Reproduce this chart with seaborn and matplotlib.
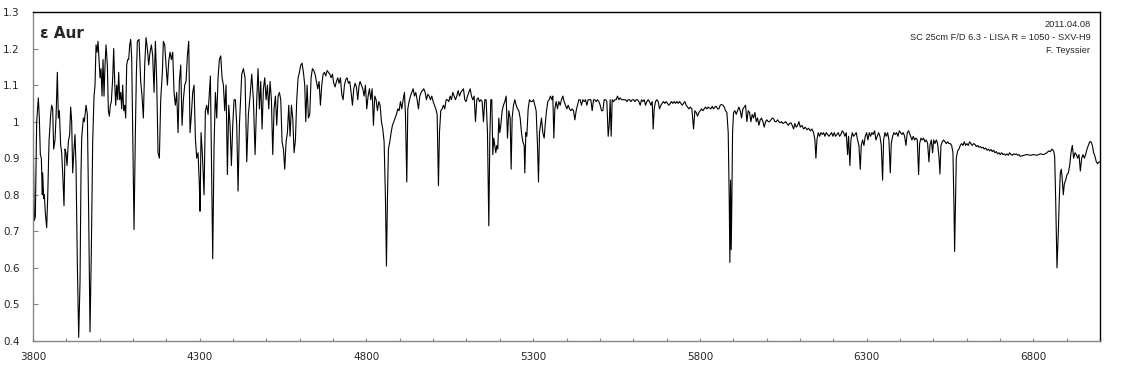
import numpy as np
import pandas as pd
import matplotlib
matplotlib.use("Agg")
import matplotlib.pyplot as plt
import seaborn as sns
from matplotlib.ticker import MultipleLocator, FuncFormatter

# ---- spectrum data (wavelength in Angstrom, relative flux) ----
wl_1 = [3800,3804,3807,3811,3816,3819,3822,3825,3828,3829,3832,3834,3837,3841,3844,3848,3853,3856,3859,3862,
        3866,3869,3873,3876,3879,3883,3886,3889,3893,3896,3899,3902,3906,3910,3913,3916,3919,3923,3926,3929,
        3933,3937,3941,3944,3946,3951,3954,3959,3963,3967,3971,3975,3979,3983,3986,3989,3992,3995,3998,4001,
        4004,4007,4010,4013,4016,4019,4023,4026,4029,4032,4035,4039,4042,4045,4048,4051,4054,4057,4060,4063,
        4066,4069,4072,4075,4078,4081,4084,4087,4090,4093,4096,4099,4103,4107,4110,4113]
flux_1 = [0.995,0.73,0.74,1.0,1.065,1.01,0.91,0.9,0.8,0.86,0.79,0.80,0.75,0.71,0.79,0.945,1.02,1.045,1.035,0.925,
          0.95,1.01,1.135,1.01,1.03,0.935,0.915,0.86,0.77,0.925,0.915,0.88,0.945,0.965,1.04,1.0,0.86,0.925,0.965,0.88,
          0.61,0.41,0.56,0.86,0.955,1.01,1.0,1.045,1.02,0.745,0.425,0.65,0.945,1.07,1.1,1.21,1.19,1.22,1.17,1.12,
          1.145,1.07,1.17,1.07,1.155,1.21,1.155,1.03,1.015,1.045,1.055,1.12,1.2,1.11,1.045,1.1,1.06,1.135,1.06,1.08,
          1.035,1.1,1.03,1.045,1.01,1.155,1.17,1.17,1.21,1.225,1.175,0.97,0.705,0.97,1.13,1.22]

wl_2 = [4118,4123,4127,4131,4135,4139,4143,4147,4151,4155,4159,4163,4167,4171,4175,4179,4183,4188,4191,4195,
        4199,4203,4207,4211,4215,4219,4223,4227,4231,4235,4239,4243,4247,4251,4255,4259,4263,4267,4271,4275,
        4279,4283,4287,4291,4295,4299,4301,4304,4308,4313,4317,4321,4325,4329,4332,4335,4339,4343,4347,4351,
        4355,4359,4363,4367,4371,4375,4379,4383,4387,4391,4395,4399,4403,4407,4411,4415,4419]
flux_2 = [1.225,1.11,1.07,1.01,1.155,1.23,1.2,1.155,1.19,1.21,1.18,1.08,1.22,1.11,0.915,0.9,1.06,1.135,1.22,1.21,
          1.155,1.1,1.165,1.19,1.17,1.19,1.08,1.045,1.08,0.97,1.11,1.155,0.99,1.06,1.1,1.11,1.18,1.22,0.97,1.02,
          1.08,1.1,0.955,0.9,0.915,0.825,0.755,0.97,0.91,0.8,1.03,1.045,1.02,1.08,1.125,0.91,0.625,0.935,1.08,1.01,
          1.12,1.17,1.18,1.12,1.1,1.03,1.1,0.855,1.045,0.99,0.88,0.99,1.06,1.06,0.99,0.81,0.99]

wl_3 = [4426,4431,4436,4441,4446,4451,4456,4461,4466,4471,4475,4479,4483,4487,4491,4495,4499,4503,4507,4511,
        4515,4519,4523,4527,4531,4535,4539,4543,4547,4551,4555,4559,4563,4567,4571,4575,4579,4583,4587,4591,
        4595,4599,4603,4607,4611,4615,4618,4622,4626,4630,4634,4638,4642,4646,4650,4654,4658,4662,4666,4670,
        4674,4678,4682,4686,4690,4694,4698,4702,4706,4710,4714,4718,4722,4726,4730,4734,4738,4742,4746,4750,
        4754,4758,4762,4766,4770,4774,4778]
flux_3 = [1.13,1.145,1.12,0.89,1.02,1.07,1.13,1.06,0.91,1.06,1.145,1.035,1.11,0.98,1.09,1.12,1.06,1.1,1.035,1.11,
          1.06,0.91,1.035,1.07,0.99,1.07,1.08,1.06,0.945,0.925,0.87,0.945,0.97,1.045,0.96,1.045,1.01,0.915,0.95,1.06,
          1.12,1.135,1.155,1.16,1.135,1.1,1.0,1.1,1.01,1.02,1.12,1.145,1.14,1.13,1.11,1.09,1.11,1.045,1.1,1.13,
          1.135,1.125,1.14,1.135,1.13,1.12,1.13,1.105,1.095,1.11,1.12,1.105,1.12,1.075,1.06,1.1,1.115,1.12,1.105,1.11,
          1.08,1.045,1.09,1.105,1.095,1.06,1.1]

wl_4 = [4781,4785,4789,4793,4797,4801,4805,4809,4813,4817,4821,4825,4829,4833,4837,4841,4845,4849,4853,4857,
        4860,4863,4866,4870,4874,4878,4882,4886,4890,4894,4898,4902,4906,4910,4914,4917,4921,4924,4928,4932,
        4936,4940,4944,4948,4952,4956,4960,4964,4968,4972,4976,4980,4984,4988,4992,4996,5000,5004,5008,5012,
        5016,5019,5023,5027,5031,5035,5039,5043,5047,5051,5055,5059,5063,5067,5071,5075,5079,5083,5087,5091,
        5095,5099,5103,5107]
flux_4 = [1.11,1.1,1.09,1.07,1.1,1.035,1.07,1.09,1.06,1.09,0.99,1.07,1.06,1.03,1.055,1.045,1.0,0.98,0.945,0.79,
          0.605,0.79,0.925,0.945,0.97,0.99,1.0,1.01,1.02,1.035,1.03,1.055,1.035,1.06,1.08,1.02,0.835,1.035,1.055,1.07,
          1.08,1.09,1.07,1.08,1.06,1.035,1.07,1.08,1.085,1.09,1.08,1.06,1.075,1.07,1.06,1.07,1.055,1.045,1.035,1.02,
          0.825,0.97,1.03,1.035,1.045,1.035,1.06,1.06,1.055,1.07,1.06,1.08,1.07,1.06,1.07,1.085,1.07,1.08,1.085,1.09,
          1.06,1.055,1.07,1.08]

wl_5 = [5111,5115,5119,5123,5127,5131,5135,5139,5143,5147,5151,5155,5159,5163,5167,5170,5173,5176,5179,5182,
        5185,5188,5191,5194,5197,5200,5203,5207,5211,5215,5219,5223,5227,5231,5234,5237,5241,5245,5249,5253,
        5257,5261,5265,5269,5273,5275,5278,5281,5285,5289,5293,5297,5301,5305,5309,5313,5316,5319,5322,5325,
        5329,5333,5336,5340,5344,5348,5352,5356,5359,5362,5365,5369,5373,5377,5381,5385,5389,5393,5397,5401,
        5405,5409,5413,5417,5421,5425,5429,5433,5437]
flux_5 = [1.09,1.07,1.06,1.07,1.0,1.06,1.065,1.055,1.06,1.055,1.0,1.06,1.06,0.97,0.715,0.955,1.06,1.06,0.91,0.955,
          0.935,0.915,0.935,0.925,1.01,0.97,0.99,1.03,1.045,1.055,1.07,0.955,1.03,1.01,0.87,1.01,1.045,1.06,1.045,1.035,
          1.03,1.01,0.97,0.945,0.935,0.86,0.97,0.96,1.035,1.06,1.055,1.055,1.06,1.045,1.03,0.935,0.835,0.97,0.99,1.01,
          0.97,0.955,0.99,1.03,1.055,1.06,1.07,1.06,1.07,0.955,1.035,1.055,1.035,1.055,1.045,1.06,1.07,1.055,1.045,1.035,
          1.045,1.035,1.03,1.035,1.03,1.005,1.03,1.045,1.06]

wl_6 = [5441,5445,5449,5453,5457,5461,5465,5469,5473,5477,5481,5485,5489,5493,5497,5501,5505,5509,5513,5517,
        5521,5525,5528,5531,5534,5537,5541,5545,5549,5553,5557,5561,5565,5569,5573,5577,5581,5585,5589,5593,
        5597,5601,5605,5609,5613,5617,5621,5625,5629,5633,5637,5641,5645,5649,5653,5657,5660,5663,5667,5671,
        5675,5679,5683,5687,5691,5695,5699,5703,5707,5711,5715,5719,5723,5727,5731,5735,5739,5743,5747,5751,
        5755,5759,5763,5767]
flux_6 = [1.06,1.045,1.06,1.055,1.06,1.045,1.06,1.06,1.06,1.03,1.06,1.06,1.055,1.06,1.055,1.045,1.03,1.03,1.06,1.06,
          1.055,0.96,0.99,1.06,0.96,1.06,1.055,1.06,1.06,1.07,1.06,1.065,1.06,1.06,1.06,1.06,1.055,1.06,1.06,1.055,
          1.06,1.06,1.055,1.06,1.06,1.055,1.045,1.06,1.055,1.06,1.045,1.055,1.06,1.055,1.045,1.055,0.98,1.035,1.055,1.06,
          1.055,1.035,1.045,1.05,1.055,1.05,1.055,1.05,1.045,1.05,1.055,1.05,1.055,1.05,1.055,1.05,1.055,1.05,1.045,1.05,
          1.055,1.045,1.04,1.035]

wl_7 = [5771,5776,5781,5785,5789,5793,5797,5801,5805,5809,5813,5817,5821,5825,5829,5833,5837,5841,5845,5849,
        5853,5857,5861,5865,5869,5873,5877,5881,5885,5888,5890,5892,5894,5896,5898,5901,5905,5909,5913,5917,
        5921,5925,5929,5933,5937,5941,5945,5949,5953,5957,5961,5965,5969,5973,5977,5981,5985,5989,5993,5997,
        6001,6005,6009,6013,6017,6021,6025,6029,6033,6037,6041,6045,6049,6053,6057,6061,6065,6069,6073,6077,
        6081,6085,6089,6093,6097]
flux_7 = [1.04,1.035,0.98,1.03,1.025,1.015,1.025,1.03,1.035,1.03,1.035,1.04,1.035,1.04,1.037,1.035,1.042,1.035,1.04,1.042,
          1.035,1.035,1.045,1.047,1.045,1.04,1.03,1.025,0.97,0.79,0.615,0.84,0.65,0.79,0.97,1.025,1.03,1.02,1.03,1.04,
          1.03,1.01,1.035,1.04,1.045,1.0,1.03,1.025,1.0,1.02,1.01,1.025,1.0,1.01,0.99,1.005,1.01,1.0,0.985,1.0,
          1.005,1.0,1.0,1.005,1.01,1.008,1.0,1.0,1.005,1.0,0.997,1.0,0.995,0.997,1.0,0.995,0.99,0.995,0.997,0.99,
          0.98,0.995,0.985,0.99,1.0]

wl_8 = [6101,6106,6111,6116,6121,6126,6131,6136,6141,6145,6148,6151,6155,6159,6163,6167,6171,6175,6179,6183,
        6187,6191,6195,6199,6203,6207,6211,6215,6219,6223,6227,6231,6235,6239,6243,6246,6250,6253,6257,6261,
        6265,6269,6273,6277,6281,6284,6288,6292,6296,6300,6304,6308,6312,6316,6320,6324,6328,6332,6336,6340,
        6344,6348,6351,6355,6359,6363,6367,6371,6374,6378,6382,6386,6390,6394,6398,6402,6406,6410,6414,6418,
        6422,6426]
flux_8 = [0.985,0.99,0.98,0.985,0.978,0.982,0.975,0.98,0.97,0.95,0.9,0.95,0.97,0.96,0.97,0.965,0.97,0.96,0.97,0.965,
          0.96,0.965,0.97,0.96,0.97,0.96,0.965,0.97,0.96,0.965,0.975,0.97,0.96,0.97,0.91,0.96,0.88,0.95,0.97,0.96,
          0.965,0.97,0.95,0.935,0.87,0.935,0.95,0.935,0.96,0.97,0.95,0.97,0.96,0.97,0.965,0.975,0.95,0.96,0.97,0.96,
          0.935,0.84,0.95,0.97,0.96,0.97,0.95,0.86,0.94,0.96,0.97,0.965,0.97,0.96,0.975,0.97,0.965,0.97,0.96,0.935,
          0.97,0.975]

wl_9 = [6432,6436,6440,6444,6448,6452,6456,6459,6463,6467,6471,6475,6479,6483,6487,6490,6494,6498,6501,6505,
        6509,6513,6517,6520,6523,6527,6531,6535,6539,6543,6547,6551,6555,6559,6562,6564,6567,6569,6573,6577,
        6581,6585,6589,6593,6597,6601,6605,6609,6613,6617,6621,6625,6629,6633,6637,6641,6645,6649,6653,6657,
        6661,6665,6669,6673,6677,6681,6685,6689,6693,6697,6701,6705,6709,6713,6717,6721,6725,6729,6733,6737,
        6741,6745,6749,6753,6757]
flux_9 = [0.96,0.95,0.96,0.95,0.955,0.95,0.855,0.94,0.955,0.95,0.955,0.945,0.95,0.94,0.89,0.935,0.95,0.915,0.95,0.94,
          0.95,0.94,0.905,0.857,0.935,0.945,0.95,0.945,0.94,0.945,0.94,0.94,0.935,0.915,0.77,0.645,0.79,0.9,0.92,0.925,
          0.935,0.94,0.935,0.945,0.935,0.94,0.935,0.945,0.94,0.935,0.94,0.938,0.932,0.935,0.93,0.932,0.928,0.93,0.925,0.928,
          0.922,0.925,0.92,0.924,0.918,0.922,0.915,0.918,0.912,0.915,0.91,0.915,0.91,0.912,0.908,0.912,0.908,0.915,0.91,0.908,
          0.912,0.91,0.912,0.908,0.91]

wl_10 = [6761,6771,6781,6791,6801,6811,6821,6831,6841,6846,6851,6856,6861,6864,6867,6871,6875,6878,6881,6884,
         6887,6890,6893,6897,6901,6905,6909,6913,6917,6921,6925,6929,6933,6937,6941,6945,6949,6953,6957,6961,
         6965,6969,6973,6977,6981,6985,6989,6993,6997,7000]
flux_10 = [0.905,0.908,0.91,0.908,0.91,0.908,0.912,0.91,0.915,0.92,0.918,0.925,0.92,0.905,0.79,0.6,0.7,0.79,0.86,0.87,
           0.84,0.8,0.83,0.84,0.855,0.86,0.88,0.915,0.935,0.9,0.915,0.91,0.9,0.91,0.865,0.9,0.91,0.9,0.91,0.925,
           0.935,0.945,0.945,0.935,0.915,0.905,0.89,0.885,0.89,0.89]

title = "\u03b5 Aur"
info_lines = ["2011.04.08", "SC 25cm F/D 6.3 - LISA R = 1050 - SXV-H9", "F. Teyssier"]
x_major = [3800, 4300, 4800, 5300, 5800, 6300, 6800]
y_ticks = [0.4, 0.5, 0.6, 0.7, 0.8, 0.9, 1.0, 1.1, 1.2, 1.3]

wl = wl_1 + wl_2 + wl_3 + wl_4 + wl_5 + wl_6 + wl_7 + wl_8 + wl_9 + wl_10
fl = flux_1 + flux_2 + flux_3 + flux_4 + flux_5 + flux_6 + flux_7 + flux_8 + flux_9 + flux_10
df = pd.DataFrame({"wavelength": wl, "flux": fl})

sns.set_style("white")
plt.rcParams["font.family"] = ["DejaVu Sans"]

fig = plt.figure(figsize=(11.25, 3.74), dpi=100)
ax = fig.add_axes([33 / 1125, 1 - 341 / 374, (1100 - 33) / 1125, (341 - 12) / 374])

sns.lineplot(data=df, x="wavelength", y="flux", color="black", linewidth=0.8,
             sort=False, estimator=None, ax=ax)

ax.set_xlim(3800, 7000)
ax.set_ylim(0.4, 1.3)
ax.set_xticks(x_major)
ax.xaxis.set_minor_locator(MultipleLocator(100))
ax.set_yticks(y_ticks)
ax.yaxis.set_major_formatter(FuncFormatter(lambda v, p: f"{v:g}"))
ax.set_xlabel("")
ax.set_ylabel("")

ax.tick_params(axis="x", which="both", direction="in", length=2.4, width=0.8,
               color="#868686", labelsize=7.5, pad=8, bottom=True)
ax.tick_params(axis="y", which="major", direction="in", length=3.5, width=0.8,
               color="#868686", labelsize=7.5, pad=9.5, left=True)

for side in ["top", "right"]:
    ax.spines[side].set_color("black")
    ax.spines[side].set_linewidth(1.0)
for side in ["left", "bottom"]:
    ax.spines[side].set_color("#868686")
    ax.spines[side].set_linewidth(1.0)

ax.text(0.007, 0.935, title, transform=ax.transAxes, fontsize=11, fontweight="bold",
        ha="left", va="center", family=["DejaVu Sans"])

for i, line in enumerate(info_lines):
    ax.text(0.991, 0.962 - i * 0.04, line, transform=ax.transAxes, fontsize=6.7,
            ha="right", va="center", family=["Liberation Sans"])

fig.savefig("out.png", dpi=100)
